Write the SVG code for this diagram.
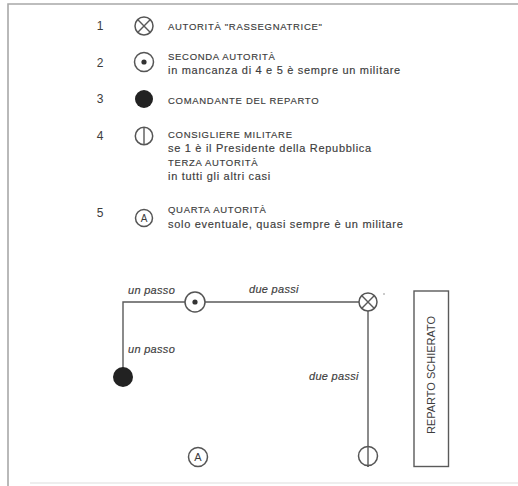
<svg xmlns="http://www.w3.org/2000/svg" width="518" height="486" viewBox="0 0 518 486">
<style>
.num{font-family:"Liberation Sans",Arial,sans-serif;font-size:12px;fill:#3c3c3c}
.cap{font-family:"Liberation Sans",Arial,sans-serif;font-size:9.5px;letter-spacing:0.7px;fill:#3c3c3c;stroke:#3c3c3c;stroke-width:0.15}
.low{font-family:"Liberation Sans",Arial,sans-serif;font-size:11px;letter-spacing:0.7px;fill:#3c3c3c;stroke:#3c3c3c;stroke-width:0.15}
.it{font-family:"Liberation Sans",Arial,sans-serif;font-size:11px;font-style:italic;letter-spacing:0.3px;fill:#3c3c3c;stroke:#3c3c3c;stroke-width:0.15}
.sym{fill:#fff;stroke:#555;stroke-width:1.5}
.ln{stroke:#5a5a5a;stroke-width:1.4;fill:none}
.frame{stroke:#a8a8a8;stroke-width:1.6;fill:none}
</style>
<rect width="518" height="486" fill="#fff"/>
<path class="frame" d="M8 486 V4 H518"/>
<line x1="30" y1="483" x2="518" y2="483" stroke="#ddd" stroke-width="1"/>

<g id="legend-1">
<text class="num" x="100" y="30" text-anchor="middle">1</text>
<circle class="sym" cx="144" cy="26" r="9"/>
<path class="ln" d="M137.6 19.6 L150.4 32.4 M150.4 19.6 L137.6 32.4"/>
<text class="cap" x="168" y="30">AUTORITÀ "RASSEGNATRICE"</text>
</g>
<g id="legend-2">
<text class="num" x="100" y="67" text-anchor="middle">2</text>
<circle class="sym" cx="144" cy="62" r="9.5"/>
<circle cx="144" cy="62" r="2.6" fill="#333"/>
<text class="cap" x="168" y="60">SECONDA AUTORITÀ</text>
<text class="low" x="168" y="74">in mancanza di 4 e 5 è sempre un militare</text>
</g>
<g id="legend-3">
<text class="num" x="100" y="103" text-anchor="middle">3</text>
<circle cx="144" cy="99" r="9" fill="#222"/>
<text class="cap" x="168" y="104">COMANDANTE DEL REPARTO</text>
</g>
<g id="legend-4">
<text class="num" x="100" y="140" text-anchor="middle">4</text>
<circle class="sym" cx="144" cy="136" r="8.7"/>
<line class="ln" x1="144" y1="127.3" x2="144" y2="144.7"/>
<text class="cap" x="168" y="138">CONSIGLIERE MILITARE</text>
<text class="low" x="168" y="152">se 1 è il Presidente della Repubblica</text>
<text class="cap" x="168" y="166">TERZA AUTORITÀ</text>
<text class="low" x="168" y="180">in tutti gli altri casi</text>
</g>
<g id="legend-5">
<text class="num" x="100" y="217" text-anchor="middle">5</text>
<circle class="sym" cx="144" cy="218" r="8.5"/>
<text x="144" y="222" text-anchor="middle" style="font-family:'Liberation Sans',Arial,sans-serif;font-size:10px;fill:#3c3c3c">A</text>
<text class="cap" x="168" y="213">QUARTA AUTORITÀ</text>
<text class="low" x="168" y="228">solo eventuale, quasi sempre è un militare</text>
</g>

<g id="connectors">
<path class="ln" d="M185 302 H123 V370"/>
<line class="ln" x1="205" y1="302" x2="359" y2="302"/>
<line class="ln" x1="368" y1="311" x2="368" y2="467"/>
<text class="it" x="128" y="294">un passo</text>
<text class="it" x="249" y="293">due passi</text>
<text class="it" x="128" y="353">un passo</text>
<text class="it" x="309" y="380">due passi</text>
</g>

<g id="node-seconda">
<circle class="sym" cx="195" cy="302" r="10"/>
<circle cx="195" cy="302" r="2.6" fill="#333"/>
</g>
<g id="node-rassegnatrice">
<circle class="sym" cx="368" cy="302" r="9"/>
<path class="ln" d="M361.6 295.6 L374.4 308.4 M374.4 295.6 L361.6 308.4"/>
<circle cx="384" cy="294" r="0.8" fill="#888"/>
</g>
<g id="node-comandante">
<circle cx="123" cy="377" r="10" fill="#222"/>
</g>
<g id="node-consigliere">
<circle class="sym" cx="368" cy="456" r="9.5"/>
<line class="ln" x1="368" y1="446" x2="368" y2="467"/>
</g>
<g id="node-quarta">
<circle class="sym" cx="198" cy="457" r="9.5"/>
<text x="198" y="461" text-anchor="middle" style="font-family:'Liberation Sans',Arial,sans-serif;font-size:11px;fill:#3c3c3c">A</text>
</g>
<g id="node-reparto">
<rect x="414" y="291" width="34.5" height="175.5" fill="#fff" stroke="#5a5a5a" stroke-width="1.4"/>
<text transform="translate(435 375) rotate(-90)" text-anchor="middle" style="font-family:'Liberation Sans',Arial,sans-serif;font-size:11px;fill:#3c3c3c">REPARTO SCHIERATO</text>
</g>
</svg>
